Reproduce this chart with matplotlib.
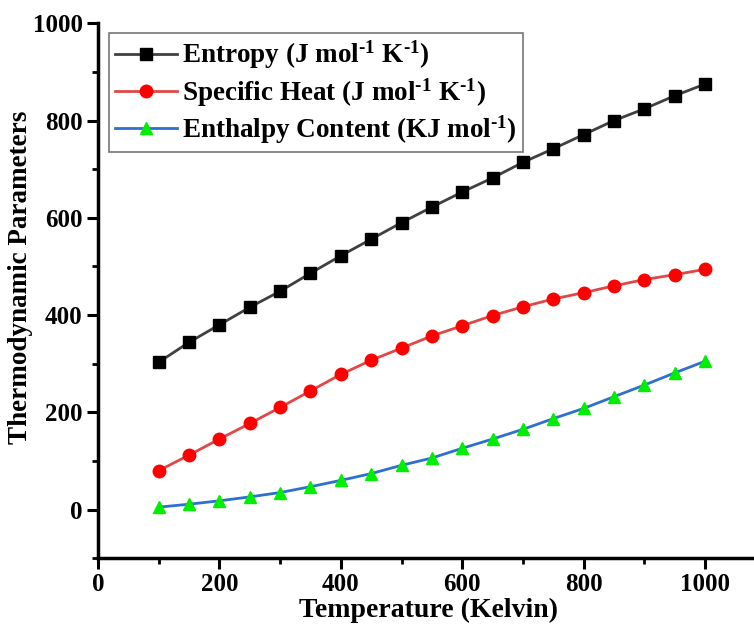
import matplotlib
matplotlib.use("Agg")
import matplotlib.pyplot as plt
from matplotlib.ticker import MultipleLocator

# temperatures (K) and the three thermodynamic series
temperature = [100, 150, 200, 250, 300, 350, 400, 450, 500, 550,
               600, 650, 700, 750, 800, 850, 900, 950, 1000]
entropy = [303, 344, 380, 416, 449, 486, 522, 556, 590, 622,
           653, 682, 714, 742, 771, 800, 824, 851, 875]
specific_heat = [80, 112, 145, 177, 210, 244, 278, 307, 332, 357,
                 378, 399, 417, 433, 446, 460, 473, 483, 494]
enthalpy = [5, 11, 18, 26, 35, 47, 60, 74, 91, 106,
            126, 145, 165, 187, 208, 232, 256, 281, 305]

plt.rcParams['font.family'] = ['Liberation Serif', 'DejaVu Serif']
plt.rcParams['font.weight'] = 'bold'
plt.rcParams['mathtext.fontset'] = 'custom'
plt.rcParams['mathtext.rm'] = 'Liberation Serif:bold'
plt.rcParams['mathtext.bf'] = 'Liberation Serif:bold'
plt.rcParams['mathtext.default'] = 'bf'

fig = plt.figure(figsize=(7.54, 6.3), dpi=100)
ax = fig.add_axes([0.130, 0.114, 0.867, 0.849])

sup = r'$^{\text{-1}}$'
ax.plot(temperature, entropy, '-', color='#404040', lw=2,
        marker='s', ms=8, mfc='black', mec='black',
        label=f'Entropy (J mol{sup} K{sup})')
ax.plot(temperature, specific_heat, '-', color='#e04848', lw=2,
        marker='o', ms=9, mfc='#ff0000', mec='#ff0000',
        label=f'Specific Heat (J mol{sup} K{sup})')
ax.plot(temperature, enthalpy, '-', color='#2f6fd0', lw=2,
        marker='^', ms=9, mfc='#00ee00', mec='#00ee00',
        label=f'Enthalpy Content (KJ mol{sup})')

ax.set_xlim(0, 1077)
ax.set_ylim(-100, 1000)
ax.xaxis.set_major_locator(MultipleLocator(200))
ax.xaxis.set_minor_locator(MultipleLocator(100))
ax.yaxis.set_major_locator(MultipleLocator(200))
ax.yaxis.set_minor_locator(MultipleLocator(100))

for side in ['top', 'right']:
    ax.spines[side].set_visible(False)
for side in ['left', 'bottom']:
    ax.spines[side].set_linewidth(2.5)

ax.tick_params(which='major', direction='out', length=8, width=2.2,
               labelsize=18, pad=3)
ax.tick_params(which='minor', direction='out', length=4, width=2)
for lab in ax.get_xticklabels() + ax.get_yticklabels():
    lab.set_fontweight('bold')

ax.set_xlabel('Temperature (Kelvin)', fontsize=20, fontweight='bold')
ax.xaxis.set_label_coords(0.506, -0.074)
ax.set_ylabel('Thermodynamic Parameters', fontsize=19.5, fontweight='bold')
ax.yaxis.set_label_coords(-0.099, 0.525)

leg = ax.legend(loc='upper left', bbox_to_anchor=(0.008, 0.992),
                prop={'family': 'Liberation Serif', 'weight': 'bold',
                      'size': 19.5},
                frameon=True, fancybox=False, handlelength=2.3,
                handletextpad=0.2, borderpad=0.22, labelspacing=0.18,
                borderaxespad=0.2)
leg.get_frame().set_edgecolor('#555555')
leg.get_frame().set_linewidth(1.2)

fig.savefig('out.png', dpi=100)
